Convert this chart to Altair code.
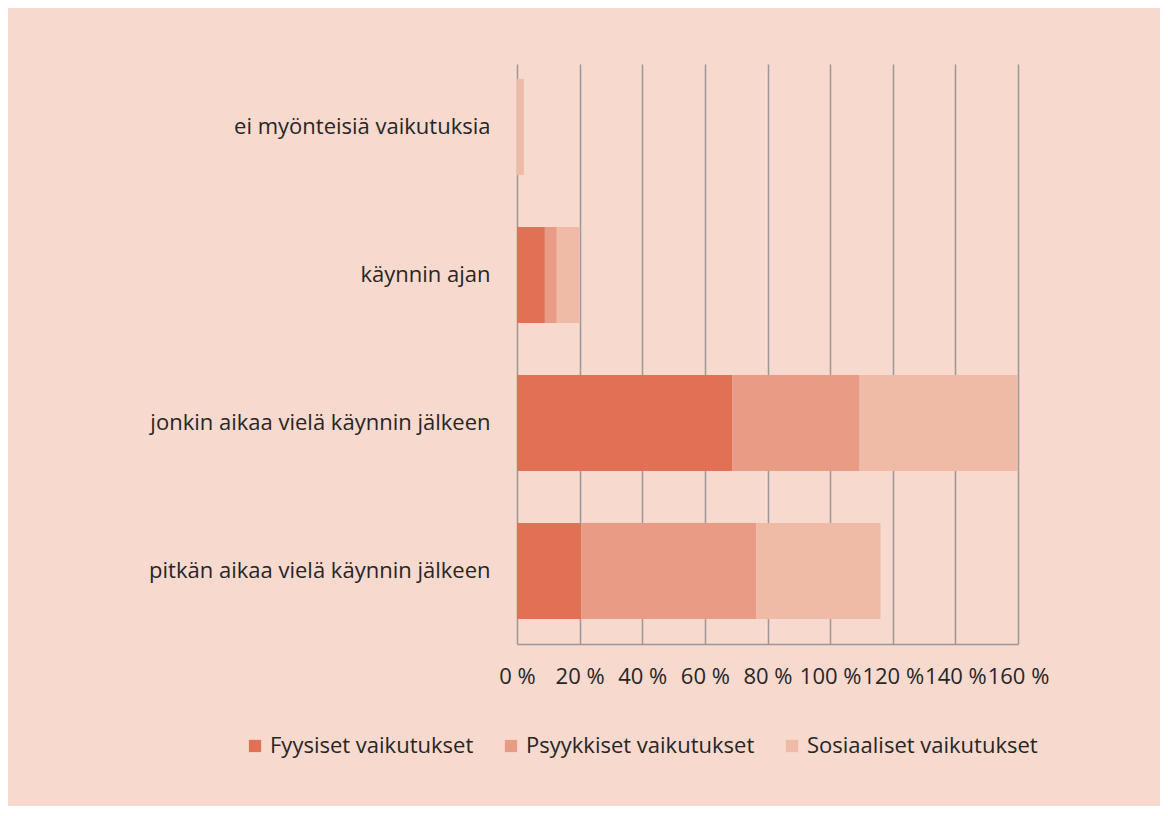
import altair as alt
import pandas as pd

categories = [
    "ei myönteisiä vaikutuksia",
    "käynnin ajan",
    "jonkin aikaa vielä käynnin jälkeen",
    "pitkän aikaa vielä käynnin jälkeen",
]
series = ["Fyysiset vaikutukset", "Psyykkiset vaikutukset", "Sosiaaliset vaikutukset"]
fyysiset = [0.0, 8.9, 68.8, 20.5]
psyykkiset = [0.0, 3.8, 40.6, 55.9]
sosiaaliset = [2.2, 7.3, 50.6, 39.7]
x_ticks = [0, 20, 40, 60, 80, 100, 120, 140, 160]

colors = ["#E07155", "#E89B85", "#EFBBA7"]
bg = "#F7D9CE"
font = "Open Sans"
fs = 22

rows = []
for i, c in enumerate(categories):
    for j, (s, vals) in enumerate(zip(series, [fyysiset, psyykkiset, sosiaaliset])):
        rows.append({"kategoria": c, "sarja": s, "arvo": vals[i], "jarj": j})
df = pd.DataFrame(rows)

chart = (
    alt.Chart(df)
    .mark_bar()
    .encode(
        y=alt.Y(
            "kategoria:N",
            sort=categories,
            title=None,
            scale=alt.Scale(paddingInner=0.351, paddingOuter=0.135, align=0.375),
            axis=alt.Axis(
                domain=False,
                ticks=False,
                labelFont=font,
                labelFontSize=fs,
                labelColor="#262626",
                labelPadding=27,
                labelLimit=500,
            ),
        ),
        x=alt.X(
            "arvo:Q",
            stack="zero",
            title=None,
            scale=alt.Scale(domain=[0, 160], nice=False),
            axis=alt.Axis(
                values=x_ticks,
                labelExpr="datum.value + ' %'",
                grid=True,
                gridColor="#999999",
                gridWidth=1.5,
                domainColor="#999999",
                domainWidth=1.5,
                ticks=False,
                labelFont=font,
                labelFontSize=fs,
                labelColor="#262626",
                labelPadding=22,
                labelFlush=False,
                labelOverlap=False,
            ),
        ),
        color=alt.Color(
            "sarja:N",
            sort=series,
            scale=alt.Scale(domain=series, range=colors),
            legend=alt.Legend(
                title=None,
                orient="none",
                direction="horizontal",
                legendX=-273,
                legendY=671,
                symbolType="square",
                symbolSize=150,
                symbolStrokeWidth=0,
                symbolOpacity=1,
                labelFont=font,
                labelFontSize=fs,
                labelColor="#262626",
                labelOffset=4,
                labelLimit=400,
                columnPadding=26,
            ),
        ),
        order=alt.Order("jarj:Q", sort="ascending"),
    )
    .properties(
        width=501,
        height=580,
        background=bg,
        padding={"left": 509, "top": 56, "right": 142, "bottom": 162},
        autosize=alt.AutoSizeParams(type="none"),
    )
    .configure_view(stroke=None, fill=bg)
)

chart.save("out.html", embed_options={"renderer": "svg", "actions": False})
